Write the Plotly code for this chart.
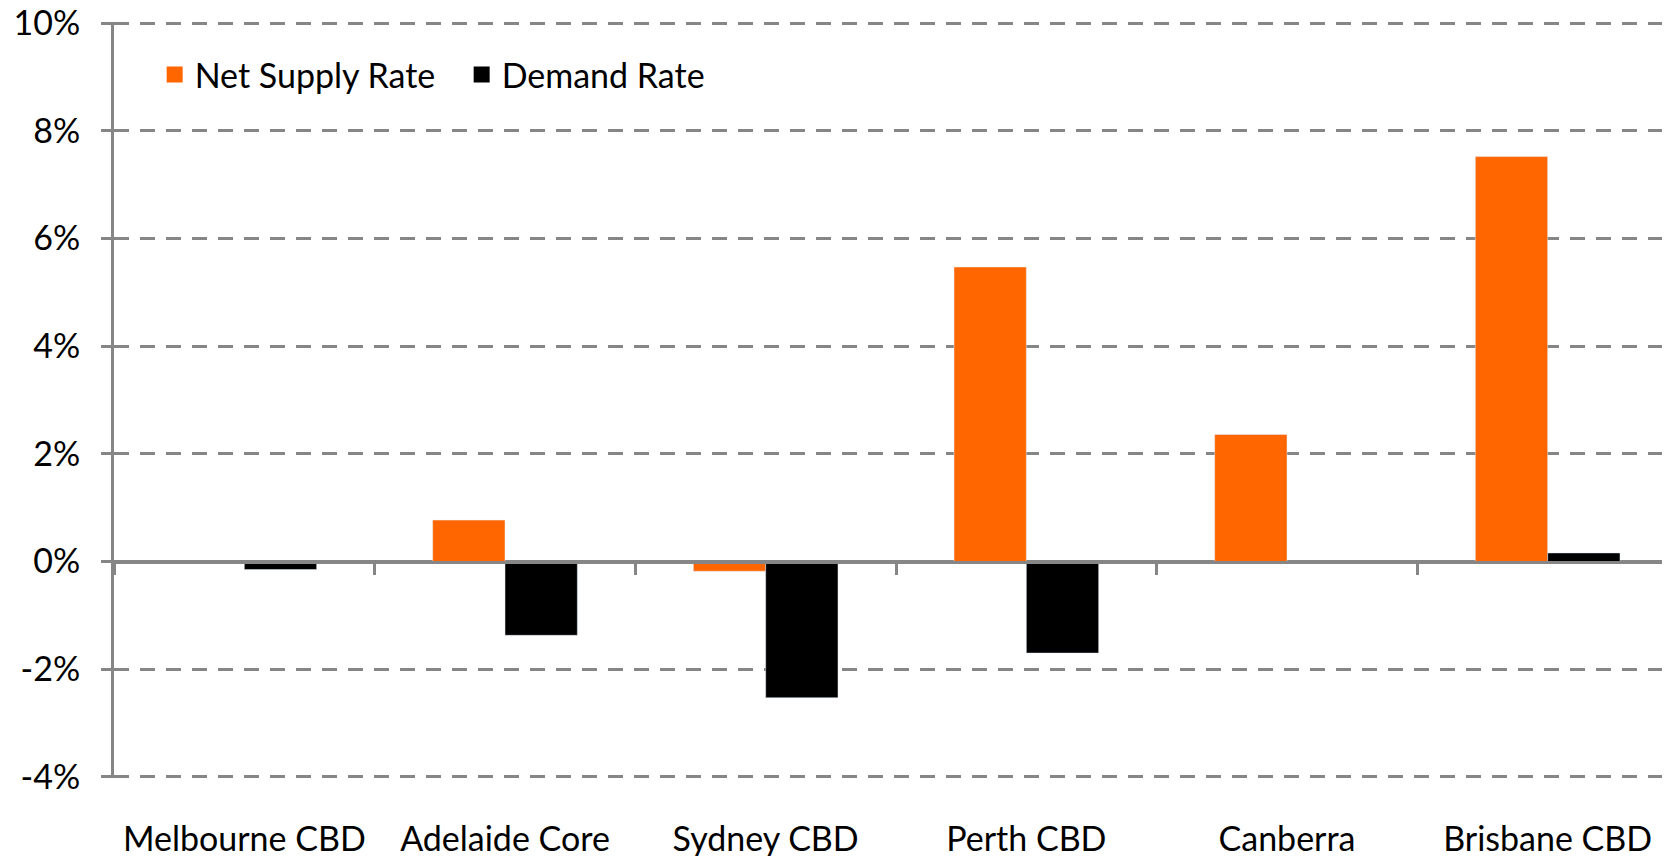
import plotly.graph_objects as go

# Valores (en %)
CIUDADES = ["Melbourne CBD", "Adelaide Core", "Sydney CBD", "Perth CBD", "Canberra", "Brisbane CBD"]
NET_SUPPLY = [0.0, 0.77, -0.18, 5.47, 2.36, 7.52]
DEMAND = [-0.15, -1.37, -2.53, -1.70, 0.0, 0.16]
TICKS_Y = [-4, -2, 0, 2, 4, 6, 8, 10]
TICK_TEXT = [f"{v}%" for v in TICKS_Y]

NARANJA = "#FF6600"
NEGRO = "#000000"
GRIS = "#868686"
FUENTE = "Lato, 'Open Sans', sans-serif"

# Un pelín de aire en los extremos para que se dibujen las grillas de -4% y 10%.
Y_MIN, Y_MAX = -4.02, 10.02

fig = go.Figure()
fig.add_trace(go.Bar(x=CIUDADES, y=NET_SUPPLY, name="Net Supply Rate",
                     marker_color=NARANJA, showlegend=False))
fig.add_trace(go.Bar(x=CIUDADES, y=DEMAND, name="Demand Rate",
                     marker_color=NEGRO, showlegend=False))

# Entradas de leyenda con cuadrados más grandes que los de las barras.
for nombre, color in [("Net Supply Rate", NARANJA), ("Demand Rate", NEGRO)]:
    fig.add_trace(go.Scatter(x=[None], y=[None], mode="markers", name=nombre,
                             marker=dict(symbol="square", size=22, color=color)))

# Eje auxiliar sobre la línea de cero: marca los límites de cada categoría.
fig.add_trace(go.Bar(x=CIUDADES, y=[None] * len(CIUDADES), xaxis="x2",
                     showlegend=False, hoverinfo="skip"))

# La página deja 8px de margen en el body, así que se compensa en los márgenes.
fig.update_layout(
    width=1670, height=856,
    margin=dict(l=106, r=0, t=14, b=86),
    plot_bgcolor="white", paper_bgcolor="white",
    font=dict(family=FUENTE, size=34, color="black"),
    barmode="group", bargap=0.445, bargroupgap=0,
    legend=dict(orientation="h", x=0.026, y=0.93, xanchor="left", yanchor="middle",
                font=dict(size=34), bgcolor="rgba(0,0,0,0)", itemwidth=30,
                entrywidth=262, entrywidthmode="pixels"),
    xaxis=dict(showline=False, showgrid=False, ticks="", ticklabelstandoff=38,
               categoryorder="array", categoryarray=CIUDADES, automargin=False),
    xaxis2=dict(overlaying="x", anchor="free", position=-Y_MIN / (Y_MAX - Y_MIN),
                matches="x", showline=True, linecolor=GRIS, linewidth=3, showgrid=False,
                ticks="outside", tickson="boundaries", ticklen=11, tickwidth=3,
                tickcolor=GRIS, showticklabels=False, automargin=False),
    yaxis=dict(range=[Y_MIN, Y_MAX], tickvals=TICKS_Y, ticktext=TICK_TEXT,
               showline=True, linecolor=GRIS, linewidth=3,
               ticks="outside", ticklen=10, tickwidth=3, tickcolor=GRIS,
               showgrid=True, gridcolor=GRIS, gridwidth=3, griddash="15px,11px",
               zeroline=True, zerolinecolor=GRIS, zerolinewidth=3,
               ticklabelstandoff=14, ticklabeloverflow="allow", automargin=False),
)

fig.write_html("out.html")
